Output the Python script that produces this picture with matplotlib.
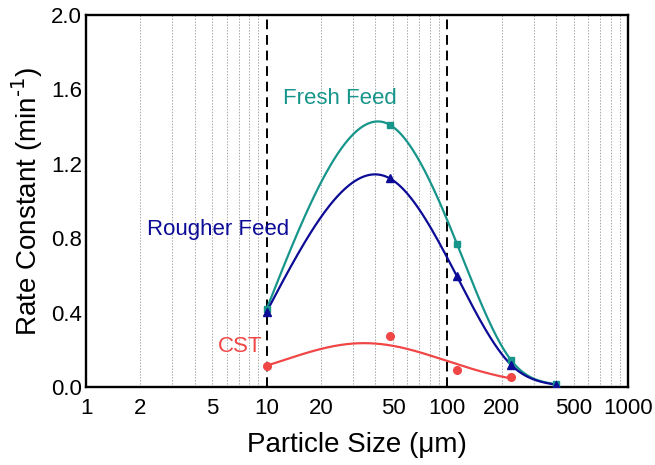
import numpy as np
import matplotlib
matplotlib.use('Agg')
import matplotlib.pyplot as plt

plt.rcParams['font.family'] = ['Liberation Sans', 'DejaVu Sans']

# particle size classes (um) and flotation rate constants (1/min)
size_fresh = [10, 48, 113, 225, 400]
k_fresh = [0.42, 1.41, 0.77, 0.145, 0.015]

size_rougher = [10, 48, 113, 225, 400]
k_rougher = [0.405, 1.122, 0.595, 0.12, 0.012]

size_cst = [10, 48, 113, 225]
k_cst = [0.111, 0.272, 0.093, 0.052]

xtick_vals = [1, 2, 5, 10, 20, 50, 100, 200, 500, 1000]
ytick_vals = [0.0, 0.4, 0.8, 1.2, 1.6, 2.0]

teal = '#17958b'
navy = '#0c0c96'
red = '#f04646'


def spline_log(x, y, n=300):
    # natural cubic spline through the points, in log10(size)
    u = np.log10(x)
    y = np.asarray(y, float)
    m = len(u)
    h = np.diff(u)
    A = np.zeros((m, m))
    r = np.zeros(m)
    A[0, 0] = A[-1, -1] = 1
    for i in range(1, m - 1):
        A[i, i - 1] = h[i - 1]
        A[i, i] = 2 * (h[i - 1] + h[i])
        A[i, i + 1] = h[i]
        r[i] = 3 * ((y[i + 1] - y[i]) / h[i] - (y[i] - y[i - 1]) / h[i - 1])
    c = np.linalg.solve(A, r)
    b = (y[1:] - y[:-1]) / h - h * (2 * c[:-1] + c[1:]) / 3
    d = (c[1:] - c[:-1]) / (3 * h)
    uu = np.linspace(u[0], u[-1], n)
    idx = np.clip(np.searchsorted(u, uu) - 1, 0, m - 2)
    dx = uu - u[idx]
    yy = y[idx] + b[idx] * dx + c[idx] * dx ** 2 + d[idx] * dx ** 3
    return 10 ** uu, yy


def gauss_fit_log(x, y, n=300):
    # log-normal shaped fit: ln k quadratic in log10(size)
    u = np.log10(x)
    p = np.polyfit(u, np.log(y), 2)
    uu = np.linspace(u[0], u[-1], n)
    return 10 ** uu, np.exp(np.polyval(p, uu))


fig, ax = plt.subplots(figsize=(6.55, 4.65), dpi=100)
fig.subplots_adjust(left=0.1313, right=0.9588, top=0.9677, bottom=0.1677)

ax.set_xscale('log')
ax.set_xlim(1, 1000)
ax.set_ylim(0, 2.0)

# dotted vertical grid at every decade subdivision
for dec in [1, 10, 100]:
    for m in range(2, 10):
        ax.axvline(m * dec, color='#a8a8a8', lw=0.7, ls=(0, (1.5, 1.5)), zorder=0)
for xv in [10, 100]:
    ax.axvline(xv, color='black', lw=1.4, ls=(0, (5, 3)), zorder=1)

xs, ys = spline_log(size_fresh, k_fresh)
ax.plot(xs, ys, color=teal, lw=1.6, zorder=3)
ax.plot(size_fresh, k_fresh, 's', color=teal, ms=5, zorder=4)

xs, ys = spline_log(size_rougher, k_rougher)
ax.plot(xs, ys, color=navy, lw=1.6, zorder=3)
ax.plot(size_rougher, k_rougher, '^', color=navy, ms=6, zorder=5)

xs, ys = gauss_fit_log(size_cst, k_cst)
ax.plot(xs, ys, color=red, lw=1.6, zorder=3)
ax.plot(size_cst, k_cst, 'o', color=red, ms=5.5, zorder=4)

ax.text(25.5, 1.55, 'Fresh Feed', color=teal, fontsize=16, ha='center', va='center')
ax.text(5.38, 0.845, 'Rougher Feed', color=navy, fontsize=16, ha='center', va='center')
ax.text(7.1, 0.22, 'CST', color=red, fontsize=16, ha='center', va='center')

ax.set_xticks(xtick_vals)
ax.set_xticklabels([str(v) for v in xtick_vals])
ax.xaxis.set_minor_locator(matplotlib.ticker.NullLocator())
ax.set_yticks(ytick_vals)
ax.set_yticklabels(['%.1f' % v for v in ytick_vals])
ax.tick_params(axis='both', length=0, labelsize=16)
ax.tick_params(axis='x', pad=8)
ax.tick_params(axis='y', pad=3)

for s in ax.spines.values():
    s.set_linewidth(1.7)

ax.set_xlabel('Particle Size (\u03bcm)', fontsize=20, labelpad=9)
ax.set_ylabel(r'Rate Constant (min$^{\text{-1}}$)', fontsize=20, labelpad=4)

fig.savefig('out.png', dpi=100)
